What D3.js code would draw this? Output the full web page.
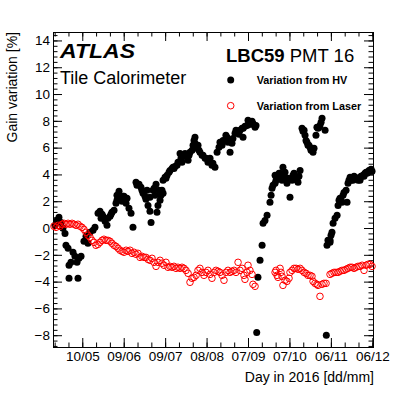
<!DOCTYPE html>
<html>
<head>
<meta charset="utf-8">
<script src="https://cdn.jsdelivr.net/npm/d3@7"></script>
<style>
body{margin:0;background:#fff}
text{font-family:"Liberation Sans",Arial,Helvetica,sans-serif}
</style>
</head>
<body>
<div id="chart"></div>
<script>
// ticks on the day axis (day of year 2016) and their labels
var xTickDays = [131,161,191,221,251,281,311,341]
var xTickLabels = ['10/05','09/06','09/07','08/08','07/09','07/10','06/11','06/12']
var yTicks = [-8,-6,-4,-2,0,2,4,6,8,10,12,14]

// variation from HV (day of year, %)
var hvDay = [111.2,112.7,114.1,115.6,117.0,118.5,119.2,120.7,121.4,122.8,121.4,124.3,125.7,127.2,128.6,127.9,130.1,132.2,133.7,135.1,
136.6,138.8,140.2,142.4,143.8,144.6,146.0,147.5,148.9,151.1,152.5,154.0,156.1,157.6,156.1,158.3,159.8,161.2,162.7,163.4,
164.8,166.3,167.7,169.9,172.1,173.5,175.0,177.1,177.9,178.6,180.0,180.0,180.8,182.2,183.7,184.4,185.1,185.8,186.6,187.3,
188.7,189.5,189.5,190.9,192.4,194.5,196.0,196.7,198.1,199.6,201.8,202.5,203.2,203.9,206.8,207.6,209.0,210.5,211.2,212.6,
212.6,214.1,215.5,216.2,217.7,218.4,219.9,222.0,223.5,224.9,227.1,228.6,230.0,230.7,232.2,234.3,235.8,236.5,238.0,239.4,
240.1,241.6,243.0,243.8,245.2,246.7,247.4,248.8,250.3,251.0,252.4,253.2,254.6,256.1,256.8,
145.3,149.6,151.8,155.4,160.5,170.6,174.2,176.4,183.0,188.0,191.6,193.8,197.4,200.3,205.4,208.3,211.9,214.8,220.6,225.6,
232.9,235.0,242.3,244.5,247.5,251.7,253.9,
257.3,258.2,259.7,261.2,261.9,263.3,264.8,266.9,268.4,269.1,270.6,270.6,272.0,272.7,274.2,275.6,276.3,277.8,278.5,279.2,
281.4,282.9,283.6,285.0,286.5,287.2,288.7,290.1,290.8,292.3,293.0,293.7,294.4,295.9,297.3,298.1,298.8,300.2,300.9,301.7,
303.1,304.6,306.8,
267.7,271.3,273.5,277.0,280.0,284.3,287.9,291.6,295.1,296.6,302.4,303.9,
307.7,308.2,308.9,310.4,311.1,311.8,312.6,314.0,315.5,316.2,316.9,317.6,319.1,319.8,320.5,322.0,322.7,323.4,324.9,325.6,
327.0,328.5,329.9,330.7,332.1,333.6,334.3,335.7,337.2,337.9,339.3,340.8,
310.4,318.4,324.1,326.3,327.8,329.2,331.4,332.8,335.0,336.5,338.6,340.1]
var hvGain = [0.20,0.57,0.80,0.42,-0.02,-0.40,-1.29,-1.51,-2.78,-2.56,-3.75,-1.81,-2.11,-2.56,-2.26,-3.75,-2.11,-0.99,-0.62,-1.14,
-0.32,-0.17,0.05,1.10,1.25,0.72,0.87,0.50,0.20,0.87,1.17,1.32,2.44,2.74,2.07,2.14,1.99,2.37,1.84,2.22,
1.47,1.10,0.05,3.41,3.26,3.04,2.59,2.14,2.81,1.69,2.29,1.25,0.42,2.81,2.44,3.26,1.17,1.69,2.81,2.07,
2.81,3.56,2.59,3.78,3.93,4.30,4.45,4.53,4.60,4.68,5.57,5.20,4.90,5.43,5.28,5.05,5.65,5.80,6.17,6.77,
6.32,5.95,5.80,5.65,5.43,5.43,5.20,4.90,5.20,4.68,4.53,5.65,6.02,6.40,6.17,6.54,6.77,6.40,5.65,6.32,
6.69,7.07,7.14,7.14,7.29,7.44,6.77,7.59,7.66,8.04,7.89,7.74,7.81,7.52,7.66,
1.02,0.72,1.02,1.84,2.37,3.19,2.81,2.37,2.96,2.44,3.71,4.16,4.45,4.90,5.57,5.43,6.54,6.17,5.20,4.83,
6.54,6.92,7.29,6.99,7.44,7.74,7.96,
-7.80,-3.68,-2.41,-1.29,0.35,0.57,0.95,1.92,2.96,3.19,3.34,3.93,3.71,3.78,4.08,3.56,4.53,4.16,3.71,3.34,
2.29,3.56,3.93,3.71,3.56,3.41,4.30,7.44,7.22,6.92,6.54,6.40,6.17,6.02,5.80,5.65,5.95,6.92,7.52,7.44,
7.66,8.19,7.29,
2.44,3.56,4.08,3.86,3.71,4.08,3.86,7.29,6.17,5.80,7.52,7.89,
-8.00,-1.29,-0.92,-0.92,-0.54,-0.32,0.35,0.72,0.95,1.69,2.07,2.22,1.92,2.44,2.66,2.81,1.92,3.34,3.78,3.56,
3.56,3.78,3.71,3.56,3.56,3.86,3.93,4.08,4.08,4.16,4.30,4.23,
-1.07,2.07,3.56,3.71,3.86,3.71,3.71,3.86,3.86,4.16,4.30,4.38]

// variation from laser (day of year, %)
var laserDay = [110.5,112.0,113.4,114.9,116.3,117.8,119.2,120.7,122.1,123.6,125.0,126.5,127.9,129.4,130.8,132.2,133.7,135.1,136.6,138.0,
139.5,140.9,142.4,143.8,145.3,146.7,148.2,149.6,151.1,152.5,154.0,155.4,156.9,158.3,159.8,161.2,162.7,164.1,165.6,167.0,
168.5,169.9,171.3,172.8,174.2,175.7,177.1,178.6,180.0,181.5,182.9,184.4,185.8,187.3,188.7,190.2,191.6,193.1,194.5,196.0,
197.4,198.9,200.3,201.8,203.2,204.7,206.1,207.6,209.0,210.5,211.9,213.4,214.8,216.2,217.7,219.1,220.6,222.0,223.5,224.9,
226.4,227.8,229.3,230.7,232.2,233.6,235.1,236.5,238.0,239.4,240.9,242.3,243.8,245.2,246.7,248.1,248.8,250.3,251.0,252.4,
253.9,254.6,256.1,
270.6,271.3,272.0,272.7,274.2,274.9,275.6,276.3,277.8,279.2,280.7,281.4,282.9,284.3,285.8,287.2,288.7,290.1,291.6,293.0,
294.4,295.9,297.3,298.1,299.5,300.9,301.7,303.1,304.6,306.0,307.5,310.4,311.8,313.3,314.7,316.2,317.6,319.1,320.5,322.0,
323.4,324.9,326.3,327.8,329.2,330.7,332.1,333.6,335.0,336.5,337.9,339.3,340.8]
var laserGain = [0.13,0.05,0.20,0.13,0.28,0.35,0.28,0.35,0.28,0.35,0.28,0.20,0.28,0.13,0.05,-0.10,-0.32,-0.54,-0.69,-0.92,
-1.07,-1.29,-1.22,-1.07,-0.92,-0.84,-0.92,-0.92,-0.99,-1.14,-1.29,-1.37,-1.51,-1.66,-1.74,-1.81,-1.66,-1.74,-1.66,-1.89,
-1.81,-1.96,-1.89,-2.19,-2.11,-2.19,-2.19,-2.34,-2.41,-2.26,-2.56,-2.86,-2.56,-2.41,-2.63,-2.78,-2.56,-2.93,-2.86,-2.93,
-2.86,-3.01,-2.93,-3.01,-2.93,-3.01,-3.16,-3.38,-4.05,-3.75,-3.68,-3.53,-3.16,-3.01,-3.31,-3.53,-3.31,-3.16,-3.46,-3.75,
-3.31,-3.16,-3.23,-3.31,-3.53,-3.90,-3.31,-3.16,-3.31,-3.23,-3.16,-3.31,-2.56,-3.16,-3.01,-3.53,-3.83,-3.31,-2.78,-3.16,
-3.46,-4.20,-4.35,
-3.31,-3.16,-3.53,-3.68,-3.01,-3.31,-3.60,-4.28,-3.90,-3.98,-3.75,-3.31,-3.16,-3.01,-3.01,-3.08,-3.01,-3.16,-3.31,-3.38,
-3.53,-3.53,-3.60,-3.98,-4.13,-4.20,-4.28,-5.10,-4.20,-4.13,-4.13,-3.46,-3.38,-3.31,-3.31,-3.31,-3.23,-3.16,-3.16,-3.08,
-3.01,-2.93,-2.93,-3.01,-2.93,-2.86,-2.86,-2.78,-3.16,-2.78,-2.71,-2.71,-2.86]

var marginL = 53, marginT = 32
var plotW = 320, plotH = 315

var svg = d3.select('#chart').append('svg')
    .attr('width',411)
    .attr('height',394)

var x = d3.scaleLinear().domain([109.8,341.5]).range([0,plotW])
var y = d3.scaleLinear().domain([-8.88,14.63]).range([plotH,0])

var g = svg.append('g').attr('transform','translate('+marginL+','+marginT+')')

// minor tick positions
var xMinor = d3.range(111,342,10)
var yMinor = d3.range(-22,37).map(function(d){return Math.round(d*4)/10})

function fmtY(d){ return d<0 ? '\u2212'+Math.abs(d) : String(d) }

function styleAxis(sel){
    sel.select('.domain').remove()
    sel.attr('font-size',13.5).attr('font-family','"Liberation Sans",Arial,sans-serif')
    sel.selectAll('line').attr('stroke','#000')
}

// bottom + top
g.append('g').attr('transform','translate(0,'+plotH+')')
    .call(d3.axisBottom(x).tickValues(xMinor).tickFormat('').tickSize(-4.5)).call(styleAxis)
g.append('g').attr('transform','translate(0,'+plotH+')')
    .call(d3.axisBottom(x).tickValues(xTickDays).tickFormat(function(d,i){return xTickLabels[i]}).tickSize(-9).tickPadding(4.5))
    .call(styleAxis)
g.append('g')
    .call(d3.axisTop(x).tickValues(xMinor).tickFormat('').tickSize(-4.5)).call(styleAxis)
g.append('g')
    .call(d3.axisTop(x).tickValues(xTickDays).tickFormat('').tickSize(-9)).call(styleAxis)

// left + right
g.append('g')
    .call(d3.axisLeft(y).tickValues(yMinor).tickFormat('').tickSize(-4.5)).call(styleAxis)
g.append('g')
    .call(d3.axisLeft(y).tickValues(yTicks).tickFormat(fmtY).tickSize(-9).tickPadding(3))
    .call(styleAxis)
g.append('g').attr('transform','translate('+plotW+',0)')
    .call(d3.axisRight(y).tickValues(yMinor).tickFormat('').tickSize(-4.5)).call(styleAxis)
g.append('g').attr('transform','translate('+plotW+',0)')
    .call(d3.axisRight(y).tickValues(yTicks).tickFormat('').tickSize(-9)).call(styleAxis)

// frame
g.append('rect')
    .attr('x',0.5).attr('y',0.5)
    .attr('width',plotW).attr('height',plotH)
    .attr('fill','none')
    .attr('stroke','#000')

// HV points
g.selectAll('.hv')
    .data(hvDay)
    .enter()
    .append('circle')
    .attr('class','hv')
    .attr('cx',function(d){return x(d)})
    .attr('cy',function(d,i){return y(hvGain[i])})
    .attr('r',3.5)
    .attr('fill','#000')

// laser points
g.selectAll('.laser')
    .data(laserDay)
    .enter()
    .append('circle')
    .attr('class','laser')
    .attr('cx',function(d){return x(d)})
    .attr('cy',function(d,i){return y(laserGain[i])})
    .attr('r',3.3)
    .attr('fill','none')
    .attr('stroke','#f00')
    .attr('stroke-width',1)

// axis titles
svg.append('text')
    .attr('transform','rotate(-90)')
    .attr('x',-32)
    .attr('y',17)
    .attr('text-anchor','end')
    .style('font-size','14px')
    .text('Gain variation [%]')

svg.append('text')
    .attr('x',374)
    .attr('y',381.5)
    .attr('text-anchor','end')
    .style('font-size','14px')
    .text('Day in 2016 [dd/mm]')

// labels inside the frame
svg.append('text')
    .attr('x',60)
    .attr('y',58)
    .attr('textLength',75)
    .attr('lengthAdjust','spacingAndGlyphs')
    .style('font-size','20px')
    .style('font-weight','bold')
    .style('font-style','italic')
    .text('ATLAS')

svg.append('text')
    .attr('x',60)
    .attr('y',83.5)
    .style('font-size','18px')
    .text('Tile Calorimeter')

var pmt = svg.append('text')
    .attr('x',226)
    .attr('y',62)
    .style('font-size','18.5px')
pmt.append('tspan').style('font-weight','bold').text('LBC59')
pmt.append('tspan').text(' PMT 16')

// legend
svg.append('circle').attr('cx',230.7).attr('cy',80).attr('r',3.5).attr('fill','#000')
svg.append('circle').attr('cx',230.7).attr('cy',105.7).attr('r',3.3)
    .attr('fill','none').attr('stroke','#f00')
svg.append('text')
    .attr('x',256.7).attr('y',83.5)
    .style('font-size','10.8px').style('font-weight','bold')
    .text('Variation from HV')
svg.append('text')
    .attr('x',256.7).attr('y',109.5)
    .style('font-size','10.8px').style('font-weight','bold')
    .text('Variation from Laser')
</script>
</body>
</html>
